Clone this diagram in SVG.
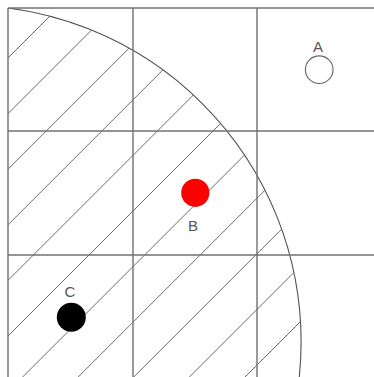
<svg xmlns="http://www.w3.org/2000/svg" width="374" height="377" viewBox="0 0 374 377">
<style>
.grid{stroke:#707070;stroke-width:1.4;fill:none}
.hatch{stroke:#6a6a6a;stroke-width:1;fill:none}
.arc{stroke:#505050;stroke-width:1.1;fill:none}
.lbl{font-family:"Liberation Sans",Arial,sans-serif;font-size:15px;fill:#555;text-anchor:middle}
</style>
<defs>
<clipPath id="circ"><circle cx="-35.5" cy="341.8" r="336.6"/></clipPath>
<clipPath id="box"><rect x="8" y="8" width="366" height="369"/></clipPath>
</defs>
<rect width="374" height="377" fill="#fff"/>
<g id="hatching" clip-path="url(#box)">
<g clip-path="url(#circ)">
<g class="hatch">
<line x1="0" y1="66" x2="66" y2="0"/>
<line x1="0" y1="121.6" x2="121.6" y2="0"/>
<line x1="0" y1="177.2" x2="177.2" y2="0"/>
<line x1="0" y1="232.8" x2="232.8" y2="0"/>
<line x1="0" y1="288.4" x2="288.4" y2="0"/>
<line x1="0" y1="344" x2="344" y2="0"/>
<line x1="0" y1="399.6" x2="399.6" y2="0"/>
<line x1="0" y1="455.2" x2="455.2" y2="0"/>
<line x1="0" y1="510.8" x2="510.8" y2="0"/>
<line x1="0" y1="566.4" x2="566.4" y2="0"/>
<line x1="0" y1="622" x2="622" y2="0"/>
</g>
</g>
<circle class="arc" cx="-35.5" cy="341.8" r="336.6"/>
</g>
<g id="grid" class="grid">
<line x1="8" y1="8" x2="374" y2="8"/>
<line x1="8" y1="131" x2="374" y2="131"/>
<line x1="8" y1="255" x2="374" y2="255"/>
<line x1="8" y1="8" x2="8" y2="377"/>
<line x1="133" y1="8" x2="133" y2="377"/>
<line x1="257" y1="8" x2="257" y2="377"/>
</g>
<g id="connectors"></g>
<g id="A">
<circle cx="319.2" cy="69.7" r="13.8" fill="#fff" stroke="#666" stroke-width="1.1"/>
<text class="lbl" x="318" y="51.5">A</text>
</g>
<g id="B">
<circle cx="195.3" cy="192.8" r="14.1" fill="#ff0000"/>
<text class="lbl" x="193" y="230.5">B</text>
</g>
<g id="C">
<circle cx="71.3" cy="317.3" r="14.5" fill="#000"/>
<text class="lbl" x="70" y="296.5">C</text>
</g>
</svg>
